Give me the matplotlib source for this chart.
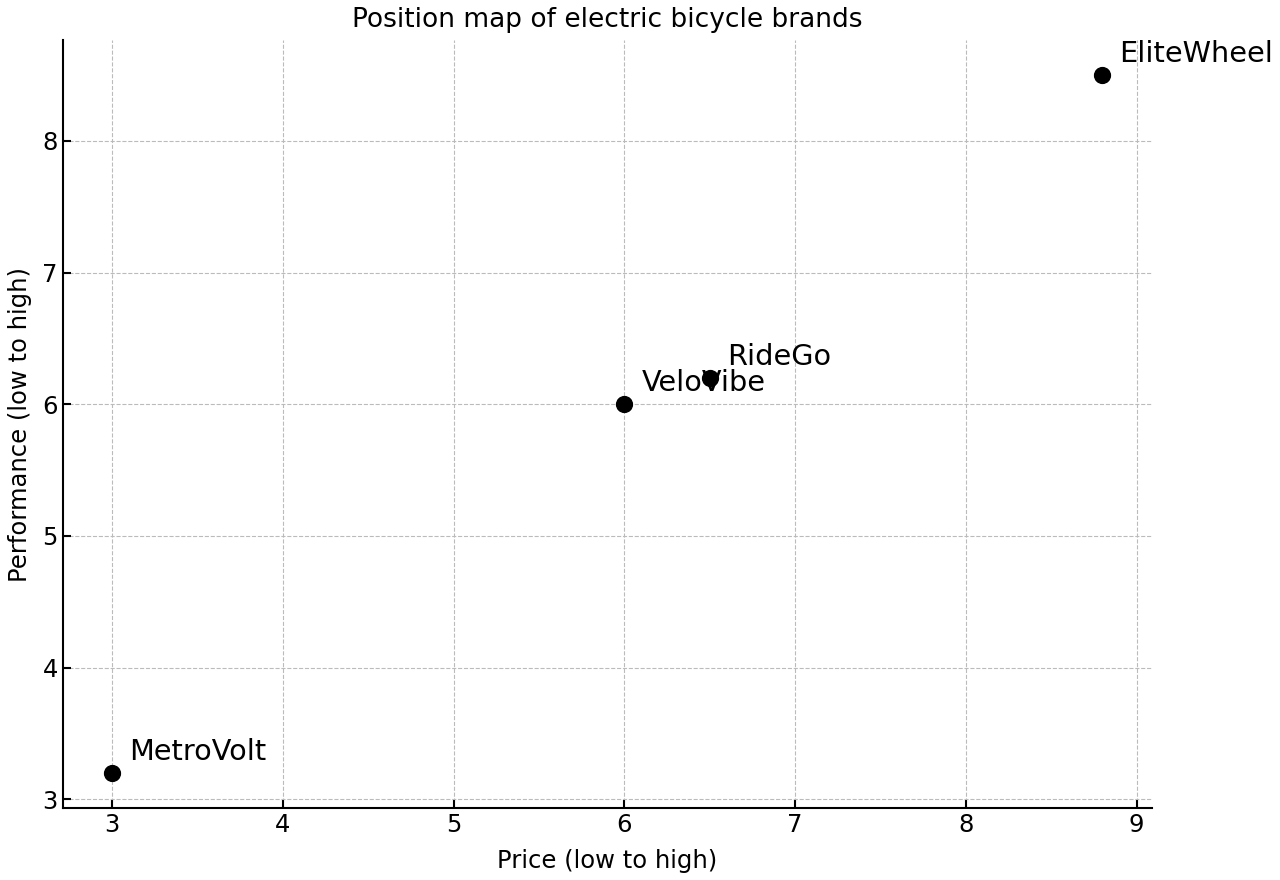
import matplotlib
matplotlib.use("Agg")
import matplotlib.pyplot as plt

# Brand positions
brands = ["MetroVolt", "VeloVibe", "RideGo", "EliteWheel"]
price = [3.0, 6.0, 6.5, 8.8]
performance = [3.2, 6.0, 6.2, 8.5]

plt.rcParams["font.size"] = 18

fig, ax = plt.subplots(figsize=(12.8, 8.8), dpi=100)
fig.subplots_adjust(left=0.049, right=0.9, top=0.9545, bottom=0.0818)

ax.scatter(price, performance, s=130, color="black", zorder=3)
for name, x, y in zip(brands, price, performance):
    ax.text(x + 0.1, y + 0.1, name, fontsize=20.7)

ax.set_title("Position map of electric bicycle brands", fontsize=19, pad=9.5)
ax.set_xlabel("Price (low to high)", fontsize=17.5, labelpad=9)
ax.set_ylabel("Performance (low to high)", fontsize=17.5, labelpad=7.5)

ax.grid(True, linestyle="--", color="#bbbbbb", linewidth=0.8)
ax.spines["top"].set_visible(False)
ax.spines["right"].set_visible(False)
ax.spines["left"].set_linewidth(1.5)
ax.spines["bottom"].set_linewidth(1.5)
ax.tick_params(direction="in", width=1.5, length=6, labelsize=17.5)

fig.savefig("out.png")
